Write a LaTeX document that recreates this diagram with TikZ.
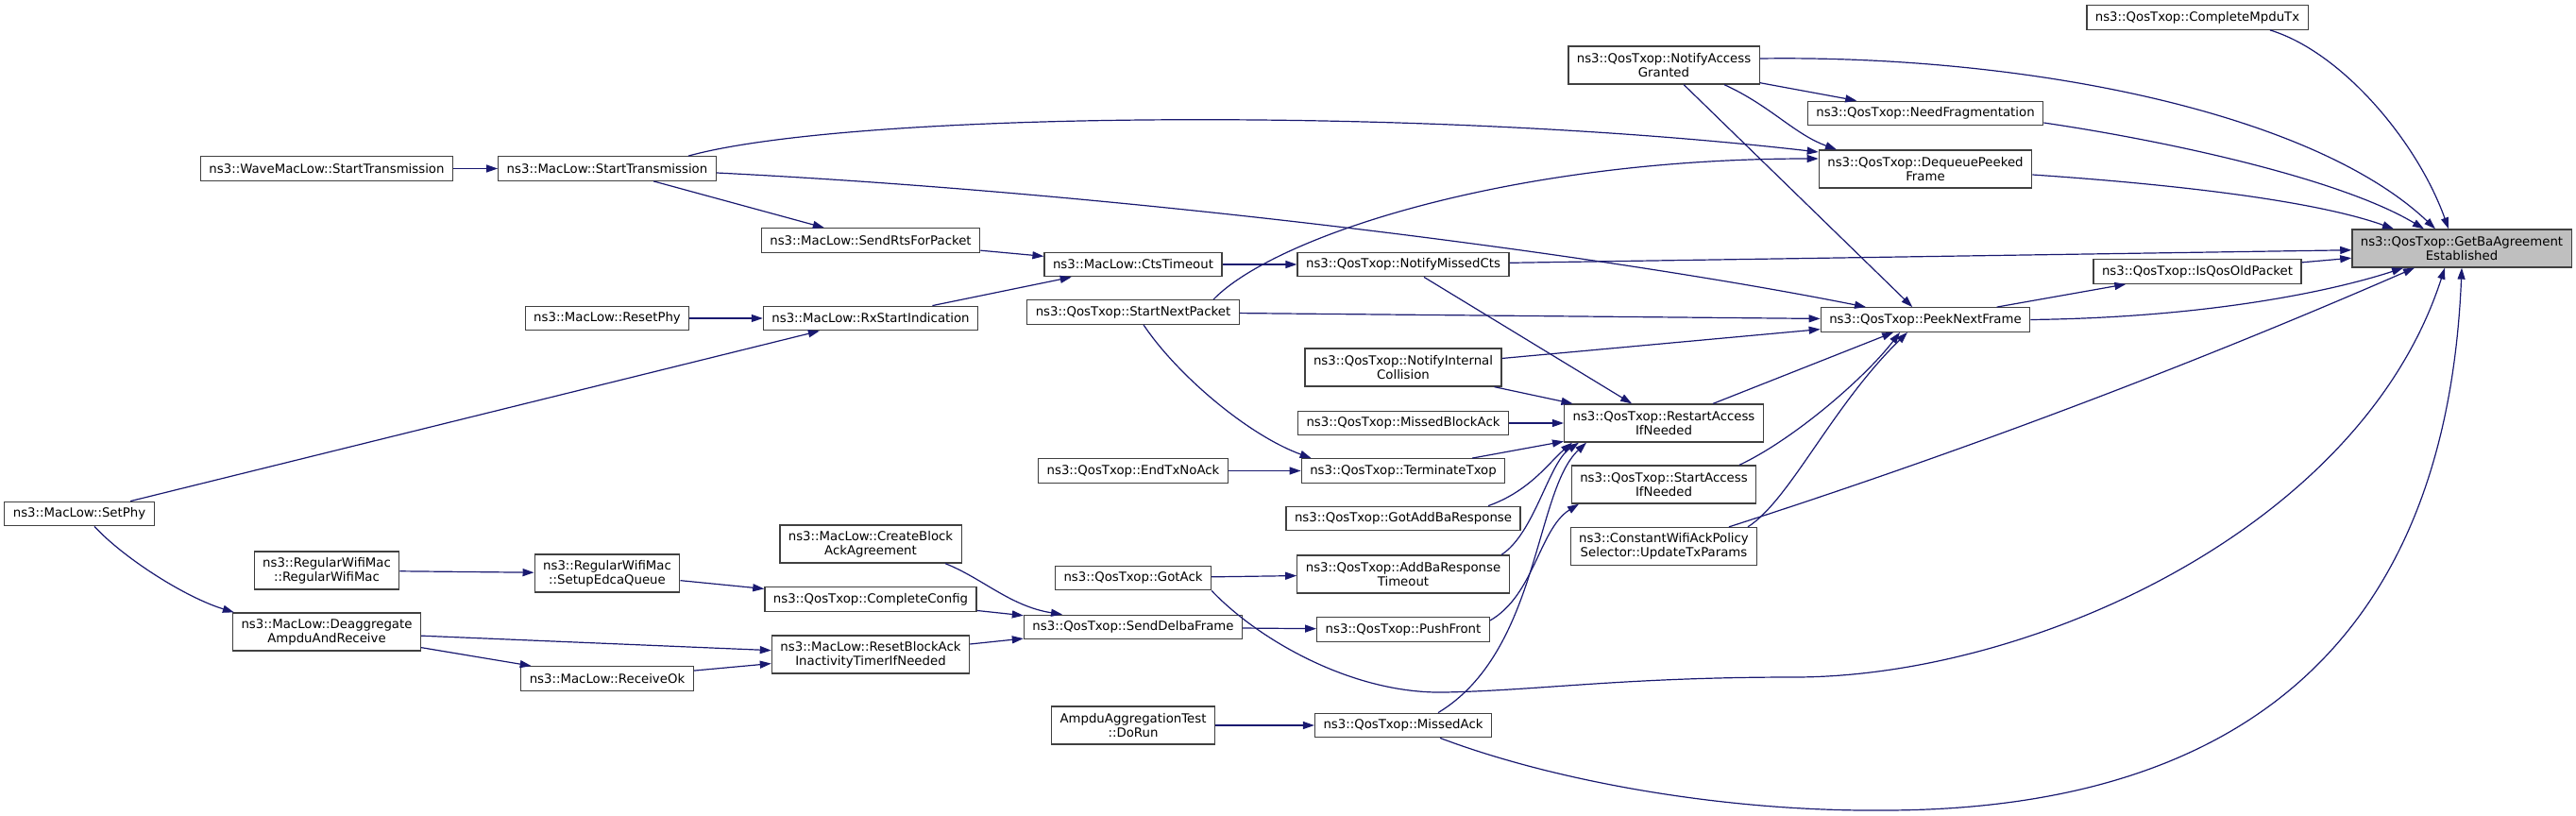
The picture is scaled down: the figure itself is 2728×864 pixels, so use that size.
\documentclass[tikz,border=0pt]{standalone}
\usepackage{fontspec}
\setmainfont{DejaVu Sans}
\usepackage{xcolor}
\usetikzlibrary{arrows.meta,positioning}

\definecolor{edgeblue}{HTML}{191970}
\definecolor{nodeline}{HTML}{404040}
\definecolor{hilite}{HTML}{BFBFBF}

\begin{document}
\begin{tikzpicture}[
        x=1pt, y=-1pt,
        box/.style={rectangle, draw=nodeline, line width=1.3pt, fill=white, minimum height=25.5pt, inner xsep=9pt, inner ysep=2pt, align=center, font=\fontsize{13.3}{15}\selectfont},
        tallbox/.style={box, minimum height=40pt},
        arrow/.style={-{Triangle[length=12pt,width=8pt]}, draw=edgeblue, line width=1.2pt}
    ]
        \useasboundingbox (0,0) rectangle (2728,864);

        % Callers, left part
        \node[box] (setphy) at (84,544) {ns3::MacLow::SetPhy};
        \node[box] (wave) at (346,178.5) {ns3::WaveMacLow::StartTransmission};
        \node[tallbox] (regwifi) at (346,604) {ns3::RegularWifiMac\\::RegularWifiMac};
        \node[tallbox] (deagg) at (346,669) {ns3::MacLow::Deaggregate\\AmpduAndReceive};
        \node[box] (macstart) at (643,178.5) {ns3::MacLow::StartTransmission};
        \node[box] (resetphy) at (643,337) {ns3::MacLow::ResetPhy};
        \node[tallbox] (setupedca) at (643,607) {ns3::RegularWifiMac\\::SetupEdcaQueue};
        \node[box] (receiveok) at (643,718.5) {ns3::MacLow::ReceiveOk};
        \node[box] (sendrts) at (922,254.5) {ns3::MacLow::SendRtsForPacket};
        \node[box] (rxstart) at (922,337) {ns3::MacLow::RxStartIndication};
        \node[tallbox] (createba) at (922,576) {ns3::MacLow::CreateBlock\\AckAgreement};
        \node[box] (completeconfig) at (922,634.5) {ns3::QosTxop::CompleteConfig};
        \node[tallbox] (resetba) at (922,693) {ns3::MacLow::ResetBlockAck\\InactivityTimerIfNeeded};

        % Callers, middle part
        \node[box] (cts) at (1200,280) {ns3::MacLow::CtsTimeout};
        \node[box] (startnext) at (1200,330.5) {ns3::QosTxop::StartNextPacket};
        \node[box] (endtx) at (1200,498.5) {ns3::QosTxop::EndTxNoAck};
        \node[box] (gotack) at (1200,612) {ns3::QosTxop::GotAck};
        \node[box] (senddelba) at (1200,664) {ns3::QosTxop::SendDelbaFrame};
        \node[tallbox] (dorun) at (1200,768) {AmpduAggregationTest\\::DoRun};
        \node[box] (missedcts) at (1486,280) {ns3::QosTxop::NotifyMissedCts};
        \node[tallbox] (internalcoll) at (1486,389) {ns3::QosTxop::NotifyInternal\\Collision};
        \node[box] (missedba) at (1486,448) {ns3::QosTxop::MissedBlockAck};
        \node[box] (terminate) at (1486,498.5) {ns3::QosTxop::TerminateTxop};
        \node[box] (gotaddba) at (1486,549) {ns3::QosTxop::GotAddBaResponse};
        \node[tallbox] (addbatimeout) at (1486,608) {ns3::QosTxop::AddBaResponse\\Timeout};
        \node[box] (pushfront) at (1486,666.5) {ns3::QosTxop::PushFront};
        \node[box] (missedack) at (1486,768) {ns3::QosTxop::MissedAck};

        % Callers, right part
        \node[tallbox] (nag) at (1762,69) {ns3::QosTxop::NotifyAccess\\Granted};
        \node[tallbox] (restart) at (1762,448) {ns3::QosTxop::RestartAccess\\IfNeeded};
        \node[tallbox] (startaccess) at (1762,513) {ns3::QosTxop::StartAccess\\IfNeeded};
        \node[tallbox] (updatetx) at (1762,578.5) {ns3::ConstantWifiAckPolicy\\Selector::UpdateTxParams};
        \node[box] (needfrag) at (2039,120) {ns3::QosTxop::NeedFragmentation};
        \node[tallbox] (dequeue) at (2039,179) {ns3::QosTxop::DequeuePeeked\\Frame};
        \node[box] (peeknext) at (2039,338.5) {ns3::QosTxop::PeekNextFrame};
        \node[box] (completempdu) at (2327,18.5) {ns3::QosTxop::CompleteMpduTx};
        \node[box] (isqosold) at (2327,287.5) {ns3::QosTxop::IsQosOldPacket};
        \node[tallbox, fill=hilite] (getba) at (2607,263) {ns3::QosTxop::GetBaAgreement\\Established};

        % Arrows
        \draw[arrow] (wave) -- (macstart);
        \draw[arrow] (macstart) -- (sendrts);
        \draw[arrow] (sendrts) -- (cts);
        \draw[arrow] (rxstart) -- (cts);
        \draw[arrow] (cts) -- (missedcts);
        \draw[arrow] (resetphy) -- (rxstart);
        \draw[arrow] (setphy) -- (rxstart);
        \draw[arrow] (startnext) -- (peeknext);
        \draw[arrow] (endtx) -- (terminate);
        \draw[arrow] (nag) -- (needfrag);
        \draw[arrow] (nag) -- (peeknext);
        \draw[arrow] (missedcts) -- (getba);
        \draw[arrow] (missedcts) -- (restart);
        \draw[arrow] (internalcoll) -- (peeknext);
        \draw[arrow] (internalcoll) -- (restart);
        \draw[arrow] (missedba) -- (restart);
        \draw[arrow] (terminate) -- (restart);
        \draw[arrow] (restart) -- (peeknext);
        \draw[arrow] (peeknext) -- (isqosold);
        \draw[arrow] (isqosold) -- (getba);
        \draw[arrow] (regwifi) -- (setupedca);
        \draw[arrow] (setupedca) -- (completeconfig);
        \draw[arrow] (completeconfig) -- (senddelba);
        \draw[arrow] (resetba) -- (senddelba);
        \draw[arrow] (deagg) -- (resetba);
        \draw[arrow] (deagg) -- (receiveok);
        \draw[arrow] (receiveok) -- (resetba);
        \draw[arrow] (gotack) -- (addbatimeout);
        \draw[arrow] (senddelba) -- (pushfront);
        \draw[arrow] (dorun) -- (missedack);

        % Curved arrows
        \draw[arrow] ([xshift=86pt]macstart.north) .. controls (900,118) and (1500,112) .. ([yshift=18pt]dequeue.west);
        \draw[arrow] ([yshift=-4.5pt]macstart.east) .. controls (1200,205) and (1700,270) .. ([xshift=-63pt]peeknext.north);
        \draw[arrow] ([xshift=85pt]startnext.north) .. controls (1350,250) and (1600,168) .. ([yshift=11pt]dequeue.west);
        \draw[arrow] ([xshift=11pt]startnext.south) .. controls (1245,395) and (1320,460) .. ([xshift=11pt]terminate.north west);
        \draw[arrow] ([yshift=7pt]nag.east) .. controls (2150,58) and (2450,120) .. ([xshift=-28pt]getba.north);
        \draw[arrow] ([xshift=64pt]nag.south) .. controls (1875,112) and (1900,142) .. ([xshift=-94pt]dequeue.north);
        \draw[arrow] ([yshift=-10pt]needfrag.east) .. controls (2300,150) and (2480,190) .. ([xshift=-40pt]getba.north);
        \draw[arrow] ([yshift=-6pt]dequeue.east) .. controls (2300,195) and (2450,212) .. ([xshift=-72pt]getba.north);
        \draw[arrow] ([xshift=77pt]completempdu.south) .. controls (2480,55) and (2560,150) .. ([xshift=-14pt]getba.north);
        \draw[arrow] (peeknext.east) .. controls (2350,336) and (2480,305) .. ([xshift=-62pt]getba.south);
        \draw[arrow] ([xshift=69pt]updatetx.north) .. controls (2073,480) and (2315,389) .. ([xshift=-50pt]getba.south);
        \draw[arrow] (gotack.south east) .. controls (1330,675) and (1430,735) .. (1530,733)
            .. controls (1630,731) and (1720,717) .. (1900,717)
            .. controls (2150,717) and (2500,560) .. ([xshift=-18pt]getba.south);
        \draw[arrow] ([xshift=39pt]missedack.south) .. controls (1640,825) and (1820,860) .. (2000,858)
            .. controls (2350,856) and (2590,700) .. (getba.south);
        \draw[arrow] ([xshift=80pt]startaccess.north) .. controls (1900,465) and (1975,400) .. ([xshift=-27pt]peeknext.south);
        \draw[arrow] ([xshift=89pt]updatetx.north) .. controls (1895,530) and (1940,430) .. ([xshift=-19pt]peeknext.south);
        \draw[arrow] ([xshift=90pt]gotaddba.north) .. controls (1620,520) and (1640,490) .. ([xshift=-97pt]restart.south);
        \draw[arrow] ([xshift=104pt]addbatimeout.north) .. controls (1625,565) and (1640,490) .. ([xshift=-90pt]restart.south);
        \draw[arrow] ([yshift=9.5pt]pushfront.east) .. controls (1625,630) and (1630,560) .. ([xshift=-90pt]startaccess.south);
        \draw[arrow] ([xshift=37pt]missedack.north) .. controls (1630,690) and (1625,520) .. ([xshift=-82pt]restart.south);
        \draw[arrow] ([xshift=16pt]setphy.south) .. controls (130,590) and (195,632) .. ([xshift=2pt]deagg.north west);
        \draw[arrow] ([xshift=79pt]createba.south) .. controls (1040,612) and (1070,642) .. ([xshift=-75pt]senddelba.north);
    \end{tikzpicture}
\end{document}
